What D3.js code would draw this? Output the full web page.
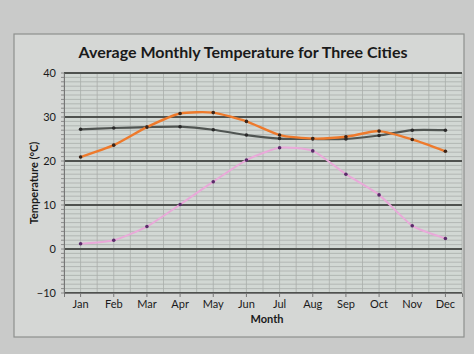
<!DOCTYPE html>
<html><head><meta charset="utf-8">
<script src="https://cdn.jsdelivr.net/npm/d3@7"></script>
<style>
html,body{margin:0;padding:0;background:#c8c9c8;}
svg{display:block;}
text{font-family:Lato,"Open Sans",sans-serif;fill:#1a1a1a;}
</style></head>
<body>
<svg id="chart" width="474" height="354"></svg>
<script>
const months = ["Jan","Feb","Mar","Apr","May","Jun","Jul","Aug","Sep","Oct","Nov","Dec"];
const cityA = [27.2,27.5,27.7,27.8,27.1,25.9,25.1,25.0,25.0,25.8,27.0,27.0];
const cityB = [20.9,23.6,27.7,30.8,31.0,29.0,25.9,25.1,25.5,26.8,24.9,22.2];
const cityC = [1.2,2.0,5.1,10.1,15.3,20.2,23.0,22.3,17.0,12.3,5.3,2.4];
const yTicks = [-10,0,10,20,30,40];

(function(){
const svg = d3.select("#chart");
const W = 474, H = 354;
svg.append("rect").attr("width",W).attr("height",H).attr("fill","#c9cac9");
svg.append("rect").attr("x",14).attr("y",34).attr("width",450).attr("height",303)
  .attr("fill","#d5d7d5").attr("stroke","#8e908e").attr("stroke-width",1.2);

const pL = 64, pR = 462, pT = 73, pB = 293;
const x = d3.scaleBand().domain(months).range([pL,pR]);
const y = d3.scaleLinear().domain([-10,40]).range([pB,pT]);

svg.append("rect").attr("x",pL).attr("y",pT).attr("width",pR-pL).attr("height",pB-pT)
  .attr("fill","#d2d8d4");

const minor = d3.range(-10,41,1).filter(v=>v%10!==0);
svg.append("g").selectAll("line").data(minor).join("line")
  .attr("x1",pL).attr("x2",pR).attr("y1",d=>y(d)).attr("y2",d=>y(d))
  .attr("stroke","#a9aeab").attr("stroke-width",0.8);
const vpos = [];
months.forEach(m=>{vpos.push(x(m)); vpos.push(x(m)+x.bandwidth()/2);});
vpos.push(pR);
svg.append("g").selectAll("line").data(vpos).join("line")
  .attr("x1",d=>d).attr("x2",d=>d).attr("y1",pT).attr("y2",pB)
  .attr("stroke","#a9aeab").attr("stroke-width",0.8);
svg.append("g").selectAll("line").data(yTicks).join("line")
  .attr("x1",pL).attr("x2",pR).attr("y1",d=>y(d)).attr("y2",d=>y(d))
  .attr("stroke","#4f524f").attr("stroke-width",1.8);

const yAxis = d3.axisLeft(y).tickValues(yTicks).tickSize(0).tickPadding(8);
const gy = svg.append("g").attr("transform",`translate(${pL},0)`).call(yAxis);
gy.select(".domain").attr("stroke","#777").attr("stroke-width",1);
gy.selectAll("text").attr("font-size",11).attr("fill","#222");
svg.append("g").selectAll("line").data(d3.range(-10,41,1)).join("line")
  .attr("x1",pL-3).attr("x2",pL).attr("y1",d=>y(d)).attr("y2",d=>y(d))
  .attr("stroke","#777").attr("stroke-width",0.8);

const xAxis = d3.axisBottom(x).tickSize(4).tickPadding(3);
const gx = svg.append("g").attr("transform",`translate(0,${pB})`).call(xAxis);
gx.select(".domain").attr("stroke","#777");
gx.selectAll(".tick line").attr("stroke","#777");
gx.selectAll("text").attr("font-size",11).attr("fill","#222");

const line = d3.line().x((d,i)=>x(months[i])+x.bandwidth()/2).y(d=>y(d)).curve(d3.curveCardinal.tension(0.4));
const series = [
  {data:cityC, color:"#e9a9d9", marker:"#5a2a6a", w:2.0},
  {data:cityA, color:"#505552", marker:"#2a2a2a", w:2.2},
  {data:cityB, color:"#ee7a2c", marker:"#3a2418", w:2.4}
];
series.forEach(s=>{
  svg.append("path").datum(s.data).attr("d",line).attr("fill","none")
    .attr("stroke",s.color).attr("stroke-width",s.w);
  svg.append("g").selectAll("circle").data(s.data).join("circle")
    .attr("cx",(d,i)=>x(months[i])+x.bandwidth()/2).attr("cy",d=>y(d)).attr("r",1.8)
    .attr("fill",s.marker);
});

svg.append("text").attr("x",243).attr("y",58).attr("text-anchor","middle")
  .attr("font-size",16).attr("font-weight","bold").text("Average Monthly Temperature for Three Cities");
svg.append("text").attr("x",267).attr("y",323).attr("text-anchor","middle")
  .attr("font-size",11).attr("font-weight","bold").text("Month");
svg.append("text").attr("transform","translate(38,183) rotate(-90)").attr("text-anchor","middle")
  .attr("font-size",11).attr("font-weight","bold").text("Temperature (°C)");
})();
</script>
</body></html>
